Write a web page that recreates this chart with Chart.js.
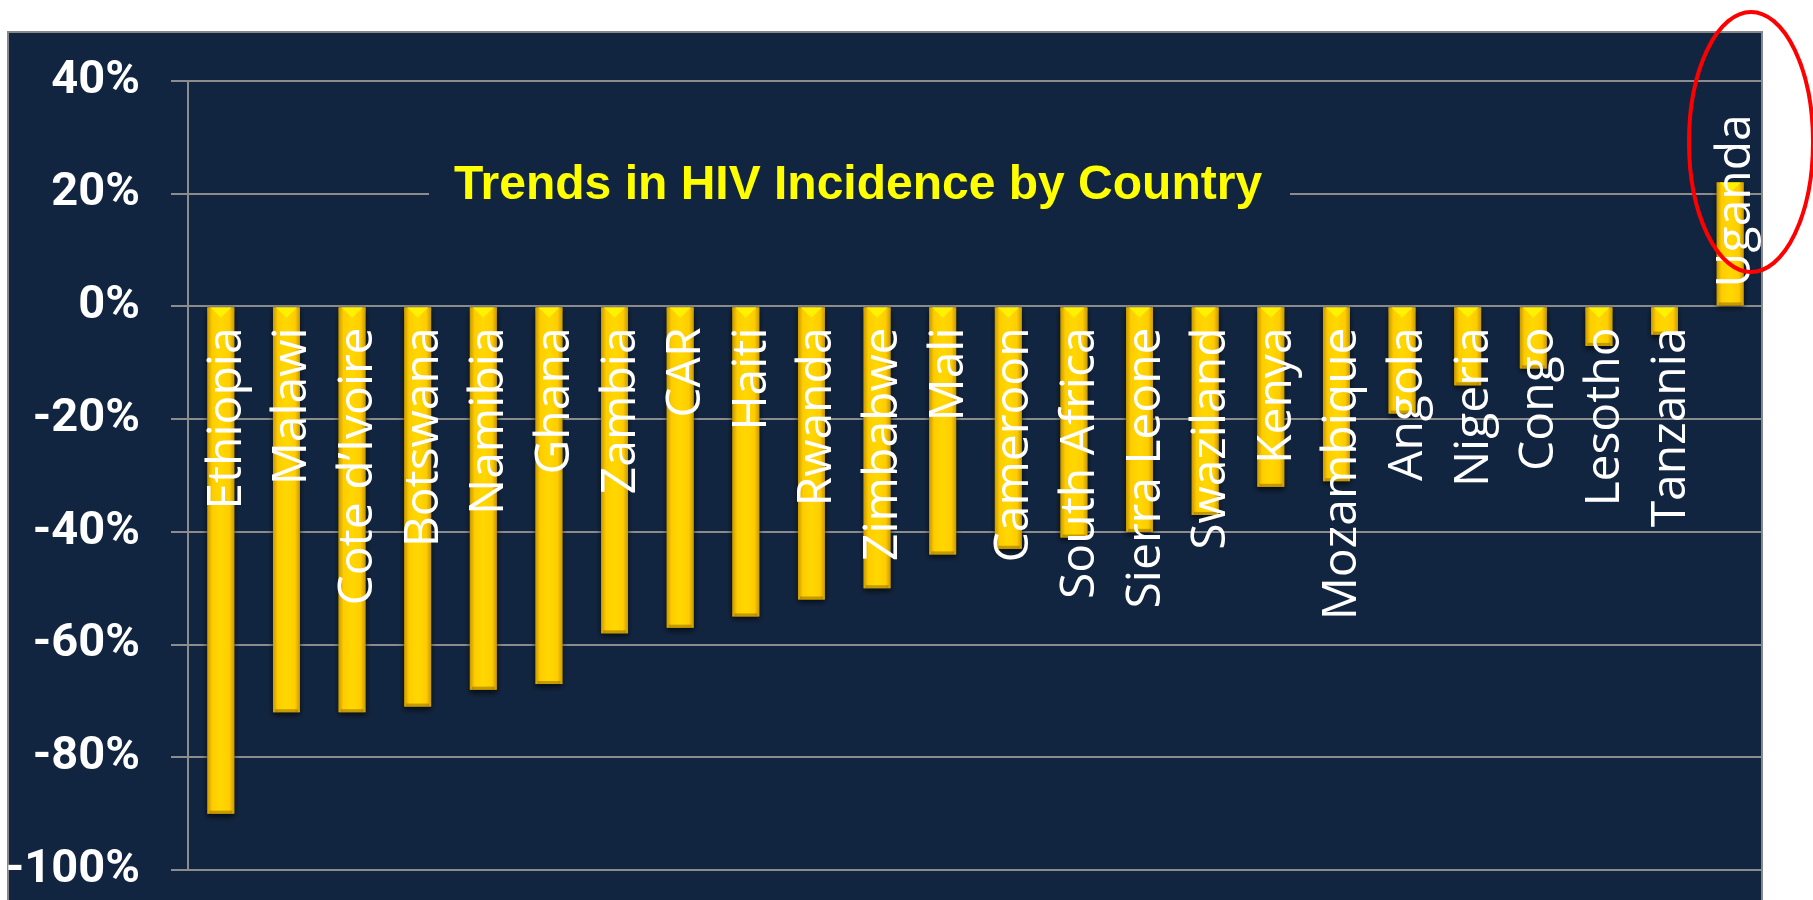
<!DOCTYPE html>
<html>
<head>
<meta charset="utf-8">
<title>Trends in HIV Incidence by Country</title>
<script src="https://cdn.jsdelivr.net/npm/chart.js@4"></script>
<style>
  html, body { margin: 0; padding: 0; background: #ffffff; }
  #myChart { display: block; }
</style>
</head>
<body>
<canvas id="myChart" width="1813" height="900"></canvas>
<script>
// 데이터
const countries = ['Ethiopia', 'Malawi', 'Cote d\u2019Ivoire', 'Botswana', 'Namibia', 'Ghana', 'Zambia', 'CAR',
  'Haiti', 'Rwanda', 'Zimbabwe', 'Mali', 'Cameroon', 'South Africa', 'Sierra Leone', 'Swaziland',
  'Kenya', 'Mozambique', 'Angola', 'Nigeria', 'Congo', 'Lesotho', 'Tanzania', 'Uganda'];
const incidenceChange = [-90, -72, -72, -71, -68, -67, -58, -57,
  -55, -52, -50, -44, -43, -41, -40, -37,
  -32, -31, -19, -14, -11, -7, -5, 22];
const yMin = -100;
const yMax = 40;
const yStep = 20;
const chartTitle = 'Trends in HIV Incidence by Country';

const NAVY = '#122540';
const GRID = '#8C8C8C';

document.addEventListener('DOMContentLoaded', function() {
  const ctx = document.getElementById('myChart');

  // 배경 박스
  const backgroundBox = {
    id: 'backgroundBox',
    beforeDraw(chart) {
      const c = chart.ctx;
      c.save();
      c.fillStyle = '#ffffff';
      c.fillRect(0, 0, chart.width, chart.height);
      c.fillStyle = NAVY;
      c.fillRect(8, 32, 1754, chart.height - 32);
      c.strokeStyle = '#888888';
      c.lineWidth = 2;
      c.strokeRect(8, 32, 1754, chart.height);
      c.restore();
    }
  };

  // 막대 입체 효과
  const barStyle = {
    id: 'barStyle',
    afterDatasetsDraw(chart) {
      const c = chart.ctx;
      const meta = chart.getDatasetMeta(0);
      meta.data.forEach(bar => {
        const p = bar.getProps(['x', 'y', 'base', 'width'], true);
        const left = p.x - p.width / 2;
        const right = p.x + p.width / 2;
        const top = Math.min(p.y, p.base);
        const bottom = Math.max(p.y, p.base);
        c.save();
        const g = c.createLinearGradient(left, 0, right, 0);
        g.addColorStop(0, '#C99A00');
        g.addColorStop(0.18, '#FFCC00');
        g.addColorStop(0.5, '#FFD800');
        g.addColorStop(0.82, '#FFCC00');
        g.addColorStop(1, '#C99A00');
        c.shadowColor = 'rgba(0,0,0,0.7)';
        c.shadowBlur = 6;
        c.shadowOffsetY = 3;
        c.fillStyle = g;
        c.fillRect(left, top, p.width, bottom - top);
        c.shadowColor = 'transparent';
        // 위쪽 경사면
        const bev = Math.min(p.width * 0.38, (bottom - top) / 2);
        c.beginPath();
        c.moveTo(left + 3, top);
        c.lineTo(right - 3, top);
        c.lineTo(p.x, top + bev);
        c.closePath();
        c.fillStyle = '#FFF200';
        c.fill();
        // 아래쪽 그림자 띠
        c.fillStyle = 'rgba(150,110,0,0.55)';
        c.fillRect(left + 2, bottom - 3, p.width - 4, 3);
        c.restore();
      });
    }
  };

  // 국가 이름 (세로)
  const countryLabels = {
    id: 'countryLabels',
    afterDatasetsDraw(chart) {
      const c = chart.ctx;
      const yScale = chart.scales.y;
      const zero = yScale.getPixelForValue(0);
      const meta = chart.getDatasetMeta(0);
      c.save();
      c.fillStyle = '#ffffff';
      c.font = '48px "Open Sans"';
      c.textBaseline = 'alphabetic';
      meta.data.forEach((bar, i) => {
        const v = incidenceChange[i];
        c.save();
        if (v < 0) {
          c.translate(bar.x, zero + 21);
          c.rotate(-Math.PI / 2);
          c.textAlign = 'right';
        } else {
          c.translate(bar.x, zero - 19);
          c.rotate(-Math.PI / 2);
          c.textAlign = 'left';
        }
        c.fillText(countries[i], 0, 20);
        c.restore();
      });
      c.restore();
    }
  };

  // 제목 + 빨간 타원
  const titleAndMark = {
    id: 'titleAndMark',
    afterDraw(chart) {
      const c = chart.ctx;
      c.save();
      c.fillStyle = NAVY;
      c.fillRect(429, 160, 861, 60);
      c.fillStyle = '#FFFF00';
      c.font = 'bold 48px "Liberation Sans", Arial, sans-serif';
      c.textAlign = 'center';
      c.textBaseline = 'alphabetic';
      c.fillText(chartTitle, 858, 199);

      c.strokeStyle = '#FF0000';
      c.lineWidth = 4;
      c.beginPath();
      c.ellipse(1751, 142, 62, 130, 0, 0, Math.PI * 2);
      c.stroke();
      c.restore();
    }
  };

  const myChart = new Chart(ctx, {
    type: 'bar',
    data: {
      labels: countries,
      datasets: [{
        label: 'HIV incidence change',
        data: incidenceChange,
        backgroundColor: '#FFD200',
        borderWidth: 0,
        barPercentage: 0.41,
        categoryPercentage: 1
      }]
    },
    options: {
      responsive: false,
      animation: false,
      layout: {
        padding: { left: 0, top: 81, right: 50, bottom: 30 }
      },
      plugins: {
        legend: { display: false },
        tooltip: { enabled: false },
        title: { display: false }
      },
      scales: {
        x: {
          display: false
        },
        y: {
          min: yMin,
          max: yMax,
          afterFit: function(scale) {
            scale.width = 188;
            scale.paddingTop = 0;
            scale.paddingBottom = 0;
          },
          ticks: {
            stepSize: yStep,
            color: '#ffffff',
            padding: 31,
            font: { family: 'Roboto', weight: 'bold', size: 47 },
            callback: function(value) {
              return value + '%';
            }
          },
          grid: {
            color: GRID,
            lineWidth: 2,
            tickLength: 17,
            drawTicks: true
          },
          border: {
            display: true,
            color: GRID,
            width: 2
          }
        }
      }
    },
    plugins: [backgroundBox, barStyle, countryLabels, titleAndMark]
  });
});
</script>
</body>
</html>
